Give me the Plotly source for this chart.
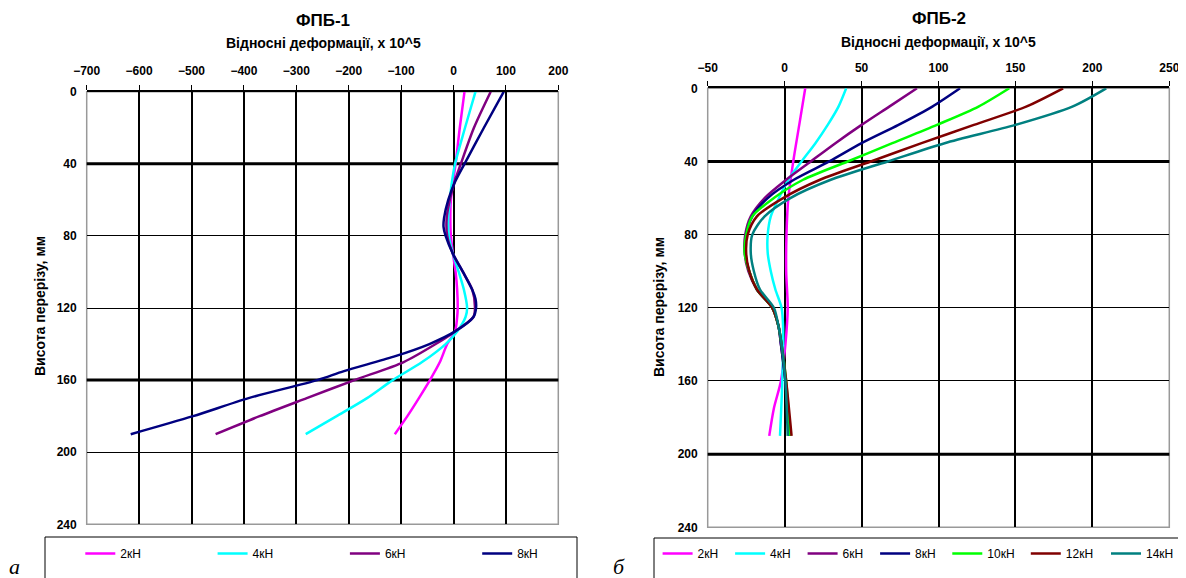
import plotly.graph_objects as go

# reference canvas; the page body adds an 8px margin, so layout coordinates are shifted by it
REF_W, REF_H = 1186, 578
OFF = 8
W, H = REF_W - OFF, REF_H - OFF

def px(x):
    return (x - OFF) / W

def py(y):
    return 1 - (y - OFF) / H

# ---------- ФПБ-1 data (strain x10^5 vs height mm) ----------
h1_2 = [0, 20, 40, 50, 60, 70, 80, 90, 100, 110, 120, 125, 133, 140, 150, 160, 170, 180, 190]
v1_2 = [21, 12, 4, -1, -5, -6, -5, -1, 4, 7, 8, 7, 3, -12, -26, -45, -66, -88, -112]

h1_4 = [0, 20, 40, 50, 60, 70, 80, 90, 100, 110, 120, 125, 133, 140, 150, 160, 170, 180, 190]
v1_4 = [42, 22, 3, -3, -7, -10, -9, -1, 10, 20, 26, 23, 7, -15, -60, -116, -165, -223, -282]

h1_6 = [0, 20, 40, 50, 60, 70, 80, 90, 100, 110, 120, 125, 133, 140, 150, 160, 170, 180, 190]
v1_6 = [71, 39, 14, 2, -7, -13, -12, -1, 18, 36, 41, 38, 3, -34, -95, -189, -280, -370, -454]

h1_8 = [0, 20, 40, 50, 60, 70, 75, 80, 90, 100, 110, 115, 120, 125, 133, 140, 147, 155, 160, 170, 180, 190]
v1_8 = [96, 58, 21, 3, -10, -18, -19, -15, -1, 18, 36, 42, 43, 38, 3, -46, -114, -209, -260, -391, -497, -616]

# ---------- ФПБ-2 data ----------
h2_2 = [0, 20, 40, 60, 80, 100, 120, 140, 160, 175, 190]
v2_2 = [13.4, 9.5, 5.6, 2.4, 1.2, 1, 2, 0.5, -2.4, -7, -10]

h2 = [0, 10, 20, 30, 40, 50, 60, 70, 80, 90, 100, 110, 120, 130, 140, 160, 190]
v2_4 = [40, 35, 28, 20, 11, 2.4, -3.7, -9, -11, -11, -9, -6, -2, -1, -1, -1.5, -3]
v2_6 = [86, 68, 50, 33, 17, 1, -13, -22, -25.6, -26, -23.6, -18, -8, -4, -2.4, 0.5, 3]
v2_8 = [114, 96, 74, 50, 29, 6, -11, -21, -25, -25.6, -23, -18, -8, -4, -2.4, 0.5, 3]
v2_10 = [146, 126, 99, 70, 41, 12, -7, -21, -25, -26, -23, -18, -8, -4, -2, 1, 3.5]
v2_12 = [181, 157, 123, 89, 56, 23, -1, -18, -24, -25, -23, -18, -8, -4, -2, 1, 4.5]
v2_14 = [209, 187, 150, 104, 67, 30, 3.7, -13, -21, -22, -20, -16, -7, -4, -2, 0.5, 2]

labels1 = ["2кН", "4кН", "6кН", "8кН"]
labels2 = ["2кН", "4кН", "6кН", "8кН", "10кН", "12кН", "14кН"]
colors = ["#FF00FF", "#00FFFF", "#800080", "#000080", "#00FF00", "#800000", "#008080"]
# legend group for each right-hand series (lets the wider labels get wider slots)
legend_of2 = ["legend2", "legend2", "legend2", "legend2", "legend3", "legend3", "legend4"]

x1_ticks = list(range(-700, 201, 100))
x2_ticks = list(range(-50, 251, 50))
y_ticks = list(range(0, 241, 40))

FONT = "Liberation Sans, Arial, sans-serif"

fig = go.Figure()

series1 = [(h1_2, v1_2), (h1_4, v1_4), (h1_6, v1_6), (h1_8, v1_8)]
for (h, v), lab, c in zip(series1, labels1, colors):
    fig.add_trace(go.Scatter(x=v, y=h, mode="lines", name=lab,
                             line=dict(color=c, width=2.5, shape="spline", smoothing=0.8),
                             xaxis="x", yaxis="y", legend="legend"))

series2 = [(h2_2, v2_2), (h2, v2_4), (h2, v2_6), (h2, v2_8), (h2, v2_10), (h2, v2_12), (h2, v2_14)]
for (h, v), lab, c, lg in zip(series2, labels2, colors, legend_of2):
    fig.add_trace(go.Scatter(x=v, y=h, mode="lines", name=lab,
                             line=dict(color=c, width=2.5, shape="spline", smoothing=0.8),
                             xaxis="x2", yaxis="y2", legend=lg))

def xax(domain, rng, ticks):
    return dict(domain=domain, range=rng, tickvals=ticks, side="top",
                showgrid=True, gridcolor="black", gridwidth=1.5,
                showline=True, linecolor="black", linewidth=2,
                ticks="outside", ticklen=5, tickcolor="black", tickwidth=1,
                ticklabelstandoff=5,
                tickfont=dict(family=FONT, size=12, color="black", weight="bold"),
                zeroline=False, fixedrange=True)

def yax(domain, anchor):
    return dict(domain=domain, range=[240, 0], tickvals=y_ticks, anchor=anchor,
                showgrid=True, gridcolor="black", gridwidth=1,
                showline=False, ticks="", ticklabelstandoff=9,
                tickfont=dict(family=FONT, size=12, color="black", weight="bold"),
                zeroline=False, fixedrange=True)

d1x = [px(86.7), px(558.3)]
d2x = [px(707.7), px(1169.3)]
d1y = [py(524.3), py(91.7)]
d2y = [py(527.3), py(88.3)]

shapes = []
# plot-area borders (grey)
for xr, yr in (("x domain", "y domain"), ("x2 domain", "y2 domain")):
    shapes.append(dict(type="rect", xref=xr, yref=yr, x0=0, x1=1, y0=0, y1=1,
                       line=dict(color="#999999", width=1.5), layer="below"))
# heavier reference gridlines
for yv in (40, 160):
    shapes.append(dict(type="line", xref="x domain", yref="y", x0=0, x1=1, y0=yv, y1=yv,
                       line=dict(color="black", width=3), layer="below"))
for yv in (40, 200):
    shapes.append(dict(type="line", xref="x2 domain", yref="y2", x0=0, x1=1, y0=yv, y1=yv,
                       line=dict(color="black", width=3), layer="below"))
# legend frames
shapes.append(dict(type="rect", xref="paper", yref="paper", x0=px(45), x1=px(577),
                   y0=-0.05, y1=py(537), line=dict(color="black", width=1)))
shapes.append(dict(type="rect", xref="paper", yref="paper", x0=px(654), x1=1.02,
                   y0=-0.05, y1=py(538), line=dict(color="black", width=1)))

def ann(text, x, y, size, angle=0, family=FONT):
    return dict(text=text, x=px(x), y=py(y), xref="paper", yref="paper",
                xanchor="center", yanchor="middle", textangle=angle, showarrow=False,
                font=dict(family=family, size=size, color="black"))

annotations = [
    ann("<b>ФПБ-1</b>", 322.5, 21, 17),
    ann("<b>Відносні деформації, х 10^5</b>", 323, 43.5, 14),
    ann("<b>ФПБ-2</b>", 938.5, 18, 17),
    ann("<b>Відносні деформації, х 10^5</b>", 938.5, 42.5, 14),
    ann("<b>Висота перерізу, мм</b>", 40, 306, 14, angle=-90),
    ann("<b>Висота перерізу, мм</b>", 659, 307, 14, angle=-90),
    ann("<i>а</i>", 14, 566, 22, family="Liberation Serif, serif"),
    ann("<i>б</i>", 619, 566, 22, family="Liberation Serif, serif"),
]

def legend_box(x, entry):
    return dict(orientation="h", x=px(x), y=py(539), xanchor="left", yanchor="top",
                entrywidth=entry, entrywidthmode="pixels", bgcolor="rgba(0,0,0,0)",
                font=dict(family=FONT, size=12, color="black"), borderwidth=0,
                itemwidth=30)

fig.update_layout(
    width=W, height=H,
    margin=dict(l=0, r=0, t=0, b=0, pad=0, autoexpand=False),
    paper_bgcolor="white", plot_bgcolor="white",
    xaxis=xax(d1x, [-700, 200], x1_ticks) | dict(anchor="y"),
    yaxis=yax(d1y, "x"),
    xaxis2=xax(d2x, [-50, 250], x2_ticks) | dict(anchor="y2"),
    yaxis2=yax(d2y, "x2"),
    shapes=shapes,
    annotations=annotations,
    legend=legend_box(80.3, 87.3),
    legend2=legend_box(657.6, 27.5),
    legend3=legend_box(947.3, 33.5),
    legend4=legend_box(1106, 28),
    showlegend=True,
)

fig.write_html("out.html")
